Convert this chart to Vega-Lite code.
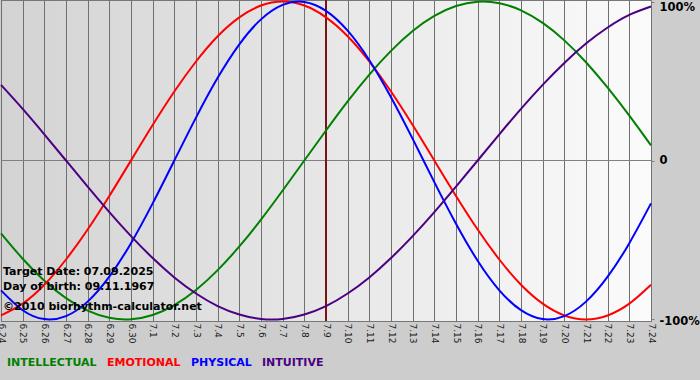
{
  "$schema": "https://vega.github.io/schema/vega-lite/v6.json",
  "width": 650,
  "height": 321,
  "autosize": {"type": "none"},
  "padding": {"left": 1, "top": 0, "right": 49, "bottom": 59},
  "background": "#cdcdcd",
  "config": {
    "font": "DejaVu Sans",
    "view": {
      "fill": {"gradient": "linear", "x1": 0, "y1": 0, "x2": 1, "y2": 0, "stops": [{"offset": 0, "color": "#d3d3d3"}, {"offset": 1, "color": "#fbfbfb"}]},
      "stroke": "#777777",
      "strokeWidth": 1
    },
    "axisX": {
      "labelExpr": "datum.value <= 6 ? '6.' + (24 + datum.value) : '7.' + (datum.value - 6)",
      "labelAngle": 90, "labelFontSize": 9, "labelColor": "#1a1a1a", "labelPadding": 2,
      "ticks": false, "domain": false, "grid": true, "gridColor": "#707070", "gridOpacity": 1, "gridWidth": 1,
      "title": null, "labelOverlap": false, "labelFlush": false, "labelBound": false
    }
  },
  "data": {"values": [
    {"s":"INTELLECTUAL","d":0,"v":-0.458},{"s":"INTELLECTUAL","d":1,"v":-0.618},{"s":"INTELLECTUAL","d":2,"v":-0.756},{"s":"INTELLECTUAL","d":3,"v":-0.866},{"s":"INTELLECTUAL","d":4,"v":-0.945},{"s":"INTELLECTUAL","d":5,"v":-0.990},{"s":"INTELLECTUAL","d":6,"v":-0.999},{"s":"INTELLECTUAL","d":7,"v":-0.972},{"s":"INTELLECTUAL","d":8,"v":-0.910},{"s":"INTELLECTUAL","d":9,"v":-0.815},{"s":"INTELLECTUAL","d":10,"v":-0.690},{"s":"INTELLECTUAL","d":11,"v":-0.541},{"s":"INTELLECTUAL","d":12,"v":-0.372},{"s":"INTELLECTUAL","d":13,"v":-0.189},{"s":"INTELLECTUAL","d":14,"v":0},{"s":"INTELLECTUAL","d":15,"v":0.189},{"s":"INTELLECTUAL","d":16,"v":0.372},{"s":"INTELLECTUAL","d":17,"v":0.541},{"s":"INTELLECTUAL","d":18,"v":0.690},{"s":"INTELLECTUAL","d":19,"v":0.815},{"s":"INTELLECTUAL","d":20,"v":0.910},{"s":"INTELLECTUAL","d":21,"v":0.972},{"s":"INTELLECTUAL","d":22,"v":0.999},{"s":"INTELLECTUAL","d":23,"v":0.990},{"s":"INTELLECTUAL","d":24,"v":0.945},{"s":"INTELLECTUAL","d":25,"v":0.866},{"s":"INTELLECTUAL","d":26,"v":0.756},{"s":"INTELLECTUAL","d":27,"v":0.618},{"s":"INTELLECTUAL","d":28,"v":0.458},{"s":"INTELLECTUAL","d":29,"v":0.282},{"s":"INTELLECTUAL","d":30,"v":0.095},
    {"s":"EMOTIONAL","d":0,"v":-0.975},{"s":"EMOTIONAL","d":1,"v":-0.901},{"s":"EMOTIONAL","d":2,"v":-0.782},{"s":"EMOTIONAL","d":3,"v":-0.623},{"s":"EMOTIONAL","d":4,"v":-0.434},{"s":"EMOTIONAL","d":5,"v":-0.223},{"s":"EMOTIONAL","d":6,"v":0},{"s":"EMOTIONAL","d":7,"v":0.223},{"s":"EMOTIONAL","d":8,"v":0.434},{"s":"EMOTIONAL","d":9,"v":0.623},{"s":"EMOTIONAL","d":10,"v":0.782},{"s":"EMOTIONAL","d":11,"v":0.901},{"s":"EMOTIONAL","d":12,"v":0.975},{"s":"EMOTIONAL","d":13,"v":1},{"s":"EMOTIONAL","d":14,"v":0.975},{"s":"EMOTIONAL","d":15,"v":0.901},{"s":"EMOTIONAL","d":16,"v":0.782},{"s":"EMOTIONAL","d":17,"v":0.623},{"s":"EMOTIONAL","d":18,"v":0.434},{"s":"EMOTIONAL","d":19,"v":0.223},{"s":"EMOTIONAL","d":20,"v":0},{"s":"EMOTIONAL","d":21,"v":-0.223},{"s":"EMOTIONAL","d":22,"v":-0.434},{"s":"EMOTIONAL","d":23,"v":-0.623},{"s":"EMOTIONAL","d":24,"v":-0.782},{"s":"EMOTIONAL","d":25,"v":-0.901},{"s":"EMOTIONAL","d":26,"v":-0.975},{"s":"EMOTIONAL","d":27,"v":-1},{"s":"EMOTIONAL","d":28,"v":-0.975},{"s":"EMOTIONAL","d":29,"v":-0.901},{"s":"EMOTIONAL","d":30,"v":-0.782},
    {"s":"PHYSICAL","d":0,"v":-0.817},{"s":"PHYSICAL","d":1,"v":-0.942},{"s":"PHYSICAL","d":2,"v":-0.998},{"s":"PHYSICAL","d":3,"v":-0.979},{"s":"PHYSICAL","d":4,"v":-0.888},{"s":"PHYSICAL","d":5,"v":-0.731},{"s":"PHYSICAL","d":6,"v":-0.520},{"s":"PHYSICAL","d":7,"v":-0.270},{"s":"PHYSICAL","d":8,"v":0},{"s":"PHYSICAL","d":9,"v":0.270},{"s":"PHYSICAL","d":10,"v":0.520},{"s":"PHYSICAL","d":11,"v":0.731},{"s":"PHYSICAL","d":12,"v":0.888},{"s":"PHYSICAL","d":13,"v":0.979},{"s":"PHYSICAL","d":14,"v":0.998},{"s":"PHYSICAL","d":15,"v":0.942},{"s":"PHYSICAL","d":16,"v":0.817},{"s":"PHYSICAL","d":17,"v":0.631},{"s":"PHYSICAL","d":18,"v":0.398},{"s":"PHYSICAL","d":19,"v":0.136},{"s":"PHYSICAL","d":20,"v":-0.136},{"s":"PHYSICAL","d":21,"v":-0.398},{"s":"PHYSICAL","d":22,"v":-0.631},{"s":"PHYSICAL","d":23,"v":-0.817},{"s":"PHYSICAL","d":24,"v":-0.942},{"s":"PHYSICAL","d":25,"v":-0.998},{"s":"PHYSICAL","d":26,"v":-0.979},{"s":"PHYSICAL","d":27,"v":-0.888},{"s":"PHYSICAL","d":28,"v":-0.731},{"s":"PHYSICAL","d":29,"v":-0.520},{"s":"PHYSICAL","d":30,"v":-0.270},
    {"s":"INTUITIVE","d":0,"v":0.476},{"s":"INTUITIVE","d":1,"v":0.325},{"s":"INTUITIVE","d":2,"v":0.165},{"s":"INTUITIVE","d":3,"v":0},{"s":"INTUITIVE","d":4,"v":-0.165},{"s":"INTUITIVE","d":5,"v":-0.325},{"s":"INTUITIVE","d":6,"v":-0.476},{"s":"INTUITIVE","d":7,"v":-0.614},{"s":"INTUITIVE","d":8,"v":-0.736},{"s":"INTUITIVE","d":9,"v":-0.837},{"s":"INTUITIVE","d":10,"v":-0.916},{"s":"INTUITIVE","d":11,"v":-0.969},{"s":"INTUITIVE","d":12,"v":-0.997},{"s":"INTUITIVE","d":13,"v":-0.997},{"s":"INTUITIVE","d":14,"v":-0.969},{"s":"INTUITIVE","d":15,"v":-0.916},{"s":"INTUITIVE","d":16,"v":-0.837},{"s":"INTUITIVE","d":17,"v":-0.736},{"s":"INTUITIVE","d":18,"v":-0.614},{"s":"INTUITIVE","d":19,"v":-0.476},{"s":"INTUITIVE","d":20,"v":-0.325},{"s":"INTUITIVE","d":21,"v":-0.165},{"s":"INTUITIVE","d":22,"v":0},{"s":"INTUITIVE","d":23,"v":0.165},{"s":"INTUITIVE","d":24,"v":0.325},{"s":"INTUITIVE","d":25,"v":0.476},{"s":"INTUITIVE","d":26,"v":0.614},{"s":"INTUITIVE","d":27,"v":0.736},{"s":"INTUITIVE","d":28,"v":0.837},{"s":"INTUITIVE","d":29,"v":0.916},{"s":"INTUITIVE","d":30,"v":0.969}
  ]},
  "layer": [
    {
      "data": {"values": [{"z": 0}]},
      "mark": {"type": "rule", "color": "#808080", "strokeWidth": 1},
      "encoding": {"y": {"field": "z", "type": "quantitative"}}
    },
    {
      "data": {"values": [{"t": 15}]},
      "mark": {"type": "rule", "color": "#7a1414", "strokeWidth": 2},
      "encoding": {"x": {"field": "t", "type": "quantitative", "axis": {"values": [0,1,2,3,4,5,6,7,8,9,10,11,12,13,14,15,16,17,18,19,20,21,22,23,24,25,26,27,28,29,30]}}}
    },
    {
      "mark": {"type": "line", "strokeWidth": 2, "interpolate": "natural"},
      "encoding": {
        "x": {
          "field": "d", "type": "quantitative",
          "scale": {"domain": [0, 30], "nice": false, "zero": false},
          "axis": {"values": [0,1,2,3,4,5,6,7,8,9,10,11,12,13,14,15,16,17,18,19,20,21,22,23,24,25,26,27,28,29,30]}
        },
        "y": {
          "field": "v", "type": "quantitative",
          "scale": {"domain": [-1.01, 1.01], "nice": false, "zero": false},
          "axis": {
            "orient": "right", "values": [-1, 0, 1],
            "labelExpr": "datum.value > 0 ? '100%' : (datum.value < 0 ? '-100%' : '0')",
            "grid": false, "domain": false, "ticks": true, "tickSize": 3, "tickColor": "#808080",
            "labelPadding": 5, "labelFontSize": 11.5, "labelFontWeight": "bold", "labelColor": "#000000",
            "title": null, "labelFlush": false,
            "labelBaseline": {"condition": {"test": "datum.value > 0", "value": "top"}, "value": "middle"},
            "labelOffset": {"condition": {"test": "datum.value < 0", "value": 2}, "value": 0}
          }
        },
        "color": {
          "field": "s", "type": "nominal",
          "scale": {"domain": ["INTELLECTUAL", "EMOTIONAL", "PHYSICAL", "INTUITIVE"], "range": ["#008000", "#ff0000", "#0000ff", "#4b0082"]},
          "legend": {
            "orient": "bottom", "direction": "horizontal", "title": null,
            "symbolType": "circle", "symbolSize": 1, "symbolStrokeWidth": 0, "symbolOpacity": 0, "labelOffset": -11, "columnPadding": 10,
            "labelFont": "DejaVu Sans", "labelFontSize": 11, "labelFontWeight": "bold", "labelLimit": 0,
            "padding": 6, "offset": 7,
            "encode": {"labels": {"update": {"fill": {"scale": "color", "field": "value"}}}}
          }
        }
      }
    },
    {
      "data": {"values": [
        {"d": 0, "v": -0.702, "label": "Target Date: 07.09.2025"},
        {"d": 0, "v": -0.796, "label": "Day of birth: 09.11.1967"},
        {"d": 0, "v": -0.922, "label": "©2010 biorhythm-calculator.net"}
      ]},
      "mark": {"type": "text", "align": "left", "baseline": "middle", "dx": 2, "font": "DejaVu Sans", "fontSize": 11, "fontWeight": "bold", "color": "#000000"},
      "encoding": {
        "x": {"field": "d", "type": "quantitative", "axis": {"values": [0,1,2,3,4,5,6,7,8,9,10,11,12,13,14,15,16,17,18,19,20,21,22,23,24,25,26,27,28,29,30]}},
        "y": {"field": "v", "type": "quantitative"},
        "text": {"field": "label"}
      }
    }
  ]
}
